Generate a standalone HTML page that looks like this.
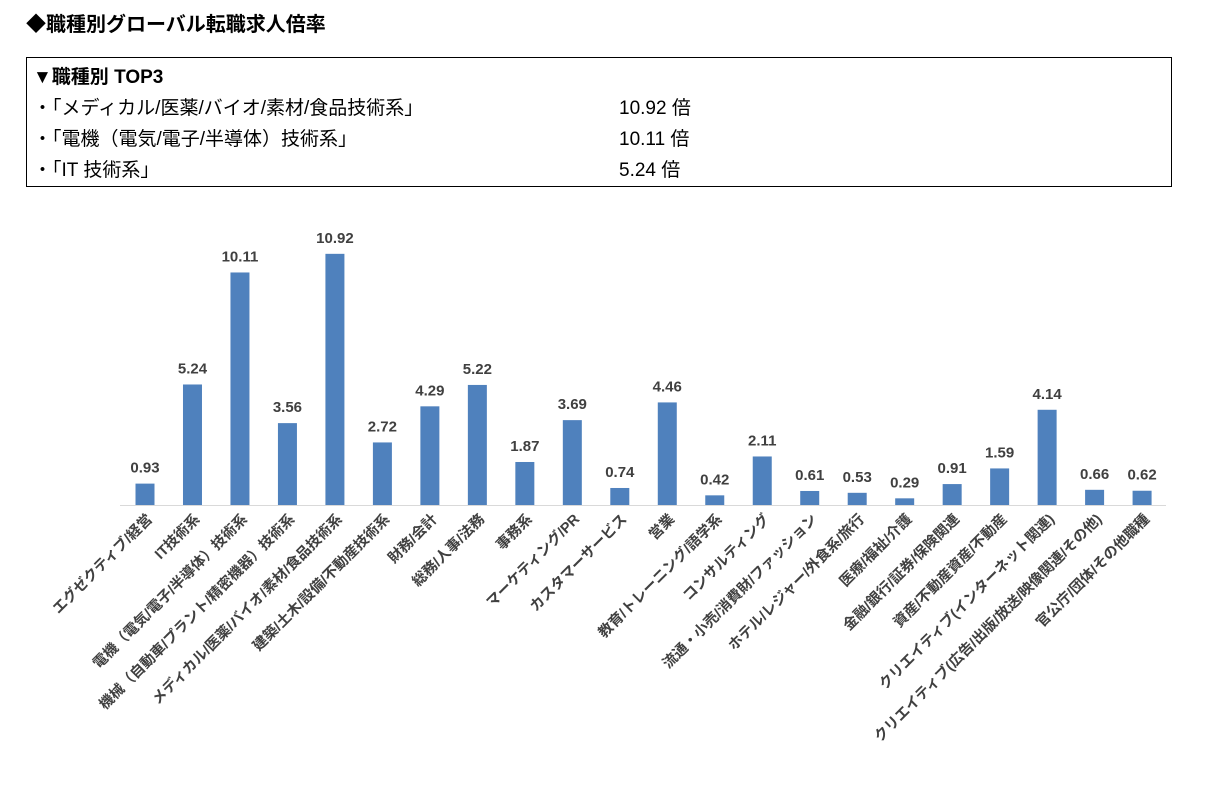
<!DOCTYPE html>
<html><head><meta charset="utf-8"><style>
body{margin:0;background:#fff;width:1220px;height:811px;overflow:hidden;font-family:"Liberation Sans","Noto Sans CJK JP",sans-serif;}
.title{position:absolute;left:26px;top:8px;font-size:20px;font-weight:bold;color:#000;}
.box{position:absolute;left:26px;top:57px;width:1144px;height:128px;border:1px solid #000;}
.row{position:absolute;left:6px;font-size:19px;color:#000;}
.val{position:absolute;left:592px;font-size:19px;color:#000;}
</style></head><body>
<div class="title">◆職種別グローバル転職求人倍率</div>
<div class="box">
<div class="row" style="top:4px;font-weight:bold">▼職種別 TOP3</div>
<div class="row" style="top:35px">・「メディカル/医薬/バイオ/素材/食品技術系」</div><div class="val" style="top:35px">10.92 倍</div>
<div class="row" style="top:66px">・「電機（電気/電子/半導体）技術系」</div><div class="val" style="top:66px">10.11 倍</div>
<div class="row" style="top:97px">・「IT 技術系」</div><div class="val" style="top:97px">5.24 倍</div>
</div>
<svg id="chart" width="1220" height="811" style="position:absolute;left:0;top:0"></svg>
<script>
const categories=["エグゼクティブ/経営","IT技術系","電機（電気/電子/半導体）技術系","機械（自動車/プラント/精密機器）技術系","メディカル/医薬/バイオ/素材/食品技術系","建築/土木/設備/不動産技術系","財務/会計","総務/人事/法務","事務系","マーケティング/PR","カスタマーサービス","営業","教育/トレーニング/語学系","コンサルティング","流通・小売/消費財/ファッション","ホテル/レジャー/外食系/旅行","医療/福祉/介護","金融/銀行/証券/保険関連","資産/不動産資産/不動産","クリエイティブ(インターネット関連)","クリエイティブ(広告/出版/放送/映像関連/その他)","官公庁/団体/その他職種"];
const values=[0.93,5.24,10.11,3.56,10.92,2.72,4.29,5.22,1.87,3.69,0.74,4.46,0.42,2.11,0.61,0.53,0.29,0.91,1.59,4.14,0.66,0.62];
const valueLabels=values.map(v=>v.toFixed(2));
const svg=document.getElementById('chart');const NS='http://www.w3.org/2000/svg';
const base=505,unit=23,x0=145,step=47.48,bw=19;
const xs=i=>x0+i*step, ys=v=>base-v*unit;
const ax=document.createElementNS(NS,'line');


ax.setAttribute('x1',120);ax.setAttribute('x2',1166);ax.setAttribute('y1',base+0.5);ax.setAttribute('y2',base+0.5);ax.setAttribute('stroke','#d9d9d9');svg.appendChild(ax);
values.forEach((v,i)=>{
const r=document.createElementNS(NS,'rect');


r.setAttribute('x',xs(i)-bw/2);r.setAttribute('y',ys(v));r.setAttribute('width',bw);r.setAttribute('height',v*unit);r.setAttribute('fill','#4f81bd');svg.appendChild(r);
const t=document.createElementNS(NS,'text');


t.setAttribute('x',xs(i));t.setAttribute('y',ys(v)-11);t.setAttribute('text-anchor','middle');t.setAttribute('font-size','15');t.setAttribute('font-weight','bold');t.setAttribute('fill','#404040');t.setAttribute('font-family','"Liberation Sans",sans-serif');t.textContent=valueLabels[i];svg.appendChild(t);
const c=document.createElementNS(NS,'text');


const cx=xs(i)+8,cy=520;
c.setAttribute('x',cx);c.setAttribute('y',cy);c.setAttribute('text-anchor','end');c.setAttribute('font-size','14.5');c.setAttribute('font-weight','bold');c.setAttribute('fill','#404040');c.setAttribute('transform','rotate(-45 '+cx+' '+cy+')');c.setAttribute('font-family','"Liberation Sans","Noto Sans CJK JP",sans-serif');c.textContent=categories[i];svg.appendChild(c);
});
</script>
</body></html>
